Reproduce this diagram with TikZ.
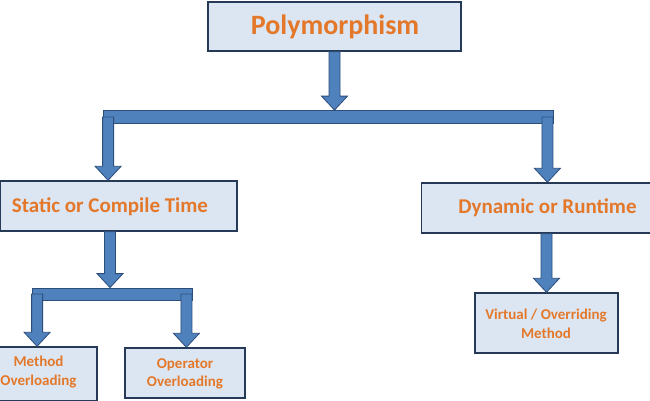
\documentclass[tikz,border=0pt]{standalone}
\usepackage{fontspec}
\setmainfont{Carlito}
\usetikzlibrary{calc}
\definecolor{boxfill}{RGB}{220,230,242}
\definecolor{boxline}{RGB}{38,58,88}
\definecolor{txt}{RGB}{228,120,42}
\definecolor{arrfill}{RGB}{79,129,189}
\definecolor{arrline}{RGB}{44,78,122}
\newcommand\blockarrow[2]{%
  \filldraw[arrowshape] let \p1=(#1), \p2=(#2) in
  (\x1-5.5pt,\y1) -- (\x1-5.5pt,\y2+14pt) -- (\x1-13pt,\y2+14pt) -- (\x1,\y2)
  -- (\x1+13pt,\y2+14pt) -- (\x1+5.5pt,\y2+14pt) -- (\x1+5.5pt,\y1) -- cycle;}
\begin{document}
\begin{tikzpicture}[x=1pt,y=1pt,
  box/.style={draw=boxline, fill=boxfill, line width=1.4pt, inner sep=0pt},
  lbl/.style={text=txt, font=\bfseries, align=center, inner sep=0pt},
  bigtxt/.style={lbl, font=\fontsize{28}{32}\selectfont\bfseries},
  midtxt/.style={lbl, font=\fontsize{21}{25}\selectfont\bfseries},
  smalltxt/.style={lbl, font=\fontsize{15}{18.5}\selectfont\bfseries},
  barshape/.style={draw=arrline, fill=arrfill, line width=0.8pt, inner sep=0pt},
  arrowshape/.style={draw=arrline, fill=arrfill, line width=0.8pt},
]
\useasboundingbox (0,0) rectangle (650,400);
\fill[white] (0,0) rectangle (650,400);

% boxes
\node[box, minimum width=253, minimum height=49] (poly) at (334.5,373.5) {};
\node[box, minimum width=237, minimum height=50] (static) at (118.5,194) {};
\node[box, minimum width=229, minimum height=50] (dyn) at (536,192) {};
\node[box, minimum width=122, minimum height=54] (method) at (36,26) {};
\node[box, minimum width=120, minimum height=50] (oper) at (185,27) {};
\node[box, minimum width=143, minimum height=60] (virt) at (546.5,77) {};

% texts
\node[bigtxt] (tpoly) at (335,373) {Polymorphism};
\node[midtxt] (tstatic) at (110,193) {Static or Compile Time};
\node[midtxt] (tdyn) at (547.5,192) {Dynamic or Runtime};
\node[smalltxt] (tmethod) at (38.5,28) {Method\\Overloading};
\node[smalltxt] (toper) at (185,26) {Operator\\Overloading};
\node[smalltxt] (tvirt) at (546,76) {Virtual / Overriding\\Method};

% bars
\node[barshape, minimum width=450, minimum height=13] (bar1) at (328,283) {};
\node[barshape, minimum width=160, minimum height=12] (bar2) at (112,106) {};

\coordinate (b1l) at ($(bar1.west)+(5.5,0)$);
\coordinate (b1r) at ($(bar1.east)+(-6,0)$);
\coordinate (b2l) at ($(bar2.west)+(5.5,0)$);
\coordinate (b2r) at ($(bar2.east)+(-6,0)$);
\coordinate (sdown) at ($(static.south -| bar2.center)+(-2,0)$);
\coordinate (ddown) at (dyn.south -| virt.north);

% arrows
\blockarrow{poly.south}{poly.south |- bar1.north}
\blockarrow{b1l}{b1l |- static.north}
\blockarrow{b1r}{b1r |- dyn.north}
\blockarrow{sdown}{sdown |- bar2.north}
\blockarrow{b2l}{b2l |- method.north}
\blockarrow{b2r}{b2r |- oper.north}
\blockarrow{ddown}{virt.north}
\end{tikzpicture}
\end{document}
